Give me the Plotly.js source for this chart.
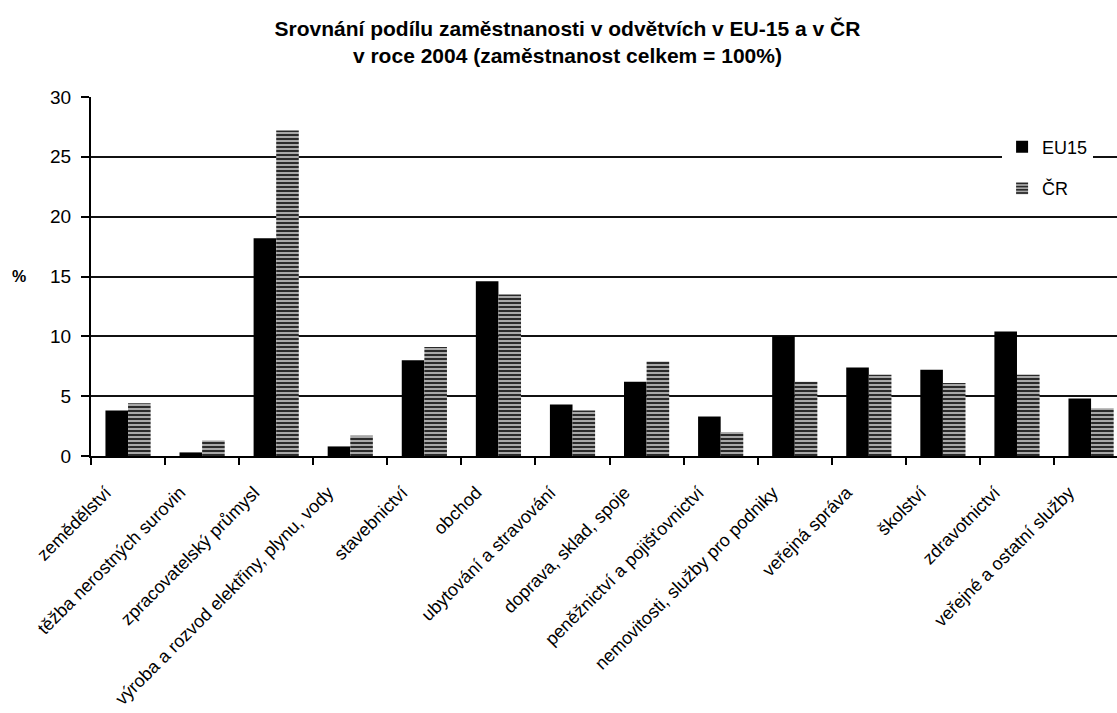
<!DOCTYPE html>
<html>
<head>
<meta charset="utf-8">
<script src="https://cdn.plot.ly/plotly-3.0.1.min.js"></script>
<style>
  html, body { margin: 0; padding: 0; background: #fff; }
  #chart { width: 1117px; height: 713px; }
</style>
</head>
<body>
<div id="chart"></div>
<script>
const categories = [
  "zemědělství",
  "těžba nerostných surovin",
  "zpracovatelský průmysl",
  "výroba a rozvod elektřiny, plynu, vody",
  "stavebnictví",
  "obchod",
  "ubytování a stravování",
  "doprava, sklad, spoje",
  "peněžnictví a pojišťovnictví",
  "nemovitosti, služby pro podniky",
  "veřejná správa",
  "školství",
  "zdravotnictví",
  "veřejné a ostatní služby"
];
const eu15 = [3.8, 0.3, 18.2, 0.8, 8.0, 14.6, 4.3, 6.2, 3.3, 10.0, 7.4, 7.2, 10.4, 4.8];
const cr   = [4.4, 1.3, 27.2, 1.7, 9.1, 13.5, 3.8, 7.9, 2.0, 6.2, 6.8, 6.1, 6.8, 4.0];
const yTicks = [0, 5, 10, 15, 20, 25, 30];

const FONT = "Liberation Sans, Arial, sans-serif";

const traces = [
  {
    type: "bar", name: "EU15", x: categories, y: eu15,
    marker: { color: "#000000", line: { width: 0 } },
    legendgroup: "a", hoverinfo: "skip"
  },
  {
    type: "bar", name: "ČR", x: categories, y: cr,
    marker: {
      color: "#999999",
      line: { width: 0 },
      pattern: { shape: "-", fgcolor: "#2a2a2a", bgcolor: "#a8a8a8", size: 4, solidity: 0.5 }
    },
    legendgroup: "b", hoverinfo: "skip"
  }
];

const layout = {
  width: 1117, height: 713,
  paper_bgcolor: "#ffffff", plot_bgcolor: "#ffffff",
  margin: { l: 91, r: 0, t: 97, b: 257, pad: 0 },
  font: { family: FONT, size: 18, color: "#000" },
  title: {
    text: "Srovnání podílu zaměstnanosti v odvětvích v EU-15 a v ČR<br>v roce 2004 (zaměstnanost celkem = 100%)",
    font: { family: FONT, size: 21, weight: "bold", color: "#000" },
    x: 0.508, xref: "container", xanchor: "center",
    y: 0.95, yref: "container", yanchor: "top"
  },
  barmode: "group", bargap: 0.39, bargroupgap: 0,
  showlegend: true,
  legend: {
    x: 0.888, y: 0.912, xanchor: "left", yanchor: "top",
    bgcolor: "#ffffff", borderwidth: 0,
    font: { family: FONT, size: 18, color: "#000" },
    traceorder: "grouped", tracegroupgap: 15
  },
  xaxis: {
    type: "category",
    range: [-0.5, 13.35],
    tickson: "boundaries",
    ticks: "outside", ticklen: 7, tickwidth: 2, tickcolor: "#000",
    showline: true, linecolor: "#000", linewidth: 2,
    showgrid: false, zeroline: false,
    tickangle: -45,
    ticklabelshift: -22,
    ticklabelstandoff: 17,
    tickfont: { family: FONT, size: 18, color: "#000" },
    automargin: false, fixedrange: true
  },
  yaxis: {
    range: [0, 30],
    tickvals: yTicks, ticktext: yTicks.map(String),
    ticks: "outside", ticklen: 8, tickwidth: 2, tickcolor: "#000",
    showline: true, linecolor: "#000", linewidth: 2,
    showgrid: true, gridcolor: "#111", gridwidth: 2,
    zeroline: false,
    ticklabelstandoff: 6,
    tickfont: { family: FONT, size: 19, color: "#000" },
    automargin: false, fixedrange: true
  },
  annotations: [
    {
      text: "%", xref: "paper", yref: "y", x: -0.070, y: 15,
      xanchor: "center", yanchor: "middle", showarrow: false,
      font: { family: FONT, size: 16, weight: "bold", color: "#000" }
    }
  ]
};

Plotly.newPlot("chart", traces, layout, { staticPlot: true, displayModeBar: false });
</script>
</body>
</html>
